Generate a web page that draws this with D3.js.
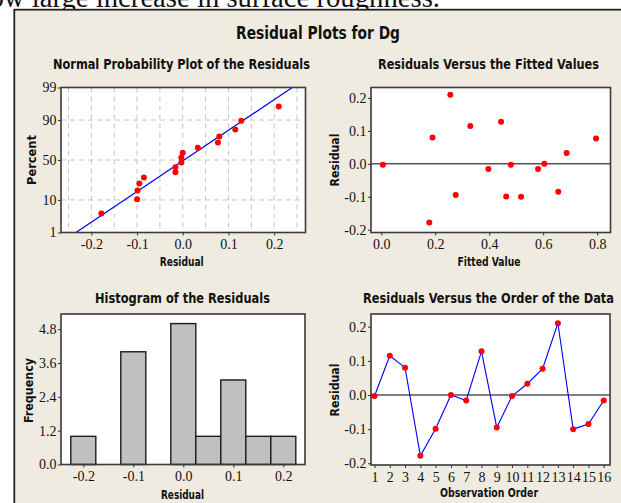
<!DOCTYPE html>
<html><head><meta charset="utf-8">
<script src="https://cdn.jsdelivr.net/npm/d3@7"></script>
<style>body{margin:0;background:#fff}svg{display:block}</style>
</head><body><svg id="c" width="621" height="503"></svg>
<script>
// ---------- data ----------
const observationOrder = [1,2,3,4,5,6,7,8,9,10,11,12,13,14,15,16];
const residuals = [-0.003,0.115,0.080,-0.178,-0.099,0.000,-0.016,0.128,-0.095,-0.003,0.033,0.077,0.210,-0.100,-0.085,-0.016];
const fittedValues = [0.006,0.330,0.190,0.178,0.463,0.604,0.397,0.444,0.276,0.480,0.687,0.796,0.256,0.518,0.656,0.581];
const percentTicks = [1,10,50,90,99];
const percentGrid = [10,50,90];
const residualTicks = [-0.2,-0.1,0.0,0.1,0.2];
const residualGrid = [-0.25,-0.2,-0.15,-0.1,-0.05,0,0.05,0.1,0.15,0.2,0.25];
const fittedTicks = [0.0,0.2,0.4,0.6,0.8];
const frequencyTicks = [0.0,1.2,2.4,3.6,4.8];
const histEdges = [-0.225,-0.175,-0.125,-0.075,-0.025,0.025,0.075,0.125,0.175,0.225];
const mainTitle = "Residual Plots for Dg";
const panelTitles = ["Normal Probability Plot of the Residuals","Residuals Versus the Fitted Values","Histogram of the Residuals","Residuals Versus the Order of the Data"];

// ---------- helpers ----------
function probit(p){
  const a=[-3.969683028665376e+01,2.209460984245205e+02,-2.759285104469687e+02,1.383577518672690e+02,-3.066479806614716e+01,2.506628277459239e+00];
  const b=[-5.447609879822406e+01,1.615858368580409e+02,-1.556989798598866e+02,6.680131188771972e+01,-1.328068155288572e+01];
  const c=[-7.784894002430293e-03,-3.223964580411365e-01,-2.400758277161838e+00,-2.549732539343734e+00,4.374664141464968e+00,2.938163982698783e+00];
  const d=[7.784695709041462e-03,3.224671290700398e-01,2.445134137142996e+00,3.754408661907416e+00];
  const pl=0.02425, ph=1-pl; let q,r;
  if(p<pl){q=Math.sqrt(-2*Math.log(p));return (((((c[0]*q+c[1])*q+c[2])*q+c[3])*q+c[4])*q+c[5])/((((d[0]*q+d[1])*q+d[2])*q+d[3])*q+1);}
  if(p<=ph){q=p-0.5;r=q*q;return (((((a[0]*r+a[1])*r+a[2])*r+a[3])*r+a[4])*r+a[5])*q/(((((b[0]*r+b[1])*r+b[2])*r+b[3])*r+b[4])*r+1);}
  q=Math.sqrt(-2*Math.log(1-p));
  return -(((((c[0]*q+c[1])*q+c[2])*q+c[3])*q+c[4])*q+c[5])/((((d[0]*q+d[1])*q+d[2])*q+d[3])*q+1);
}
const svg = d3.select("#c");
const TICKFONT = "'Liberation Serif','Times New Roman',serif";
const BOLDFONT = "'DejaVu Sans Condensed','DejaVu Sans',sans-serif";
const fmt1 = d => d.toFixed(1);

function boldText(txt, x, y, size, len, rot){
  const t = svg.append("text")
    .attr("font-family", BOLDFONT).attr("font-weight","bold").attr("font-stretch","condensed")
    .attr("font-size", size).attr("text-anchor","middle").attr("fill","#111")
    .attr("textLength", len).attr("lengthAdjust","spacingAndGlyphs").text(txt);
  if(rot) t.attr("transform",`translate(${x},${y}) rotate(-90)`);
  else t.attr("x",x).attr("y",y);
}
function styleAxis(g){
  g.select(".domain").remove();
  g.attr("font-family", TICKFONT).attr("font-size", 14);
  g.selectAll("line").attr("stroke","#333");
  g.selectAll("text").attr("fill","#111");
}
function xAxis(scale, y, ticks, fmt){
  const g = svg.append("g").attr("transform",`translate(0,${y})`)
    .call(d3.axisBottom(scale).tickValues(ticks).tickFormat(fmt).tickSize(3));
  styleAxis(g);
  g.selectAll("text").attr("dy", null).attr("y", 16.5);
}
function yAxis(scale, x, ticks, fmt){
  const g = svg.append("g").attr("transform",`translate(${x},0)`)
    .call(d3.axisLeft(scale).tickValues(ticks).tickFormat(fmt).tickSize(3).tickPadding(1.5));
  styleAxis(g);
}
function plotBg(x0,y0,x1,y1){
  svg.append("rect").attr("x",x0).attr("y",y0).attr("width",x1-x0).attr("height",y1-y0).attr("fill","#fff");
}
function plotFrame(x0,y0,x1,y1){
  svg.append("rect").attr("x",x0).attr("y",y0).attr("width",x1-x0).attr("height",y1-y0)
    .attr("fill","none").attr("stroke","#3a3a3a").attr("stroke-width",1.6);
}

// ---------- page ----------
svg.append("rect").attr("width",621).attr("height",503).attr("fill","#fff");
svg.append("text").attr("x",-36).attr("y",6.5).attr("font-family","'Liberation Serif','Times New Roman',serif")
  .attr("font-size",29).attr("fill","#111").attr("textLength",476).attr("lengthAdjust","spacingAndGlyphs")
  .text("show large increase in surface roughness.");
svg.append("rect").attr("x",14.3).attr("y",9.7).attr("width",700).attr("height",600)
  .attr("fill","#efebe1").attr("stroke","#222").attr("stroke-width",1.8);
boldText(mainTitle, 318, 39, 18, 164);

// ---------- Panel 1: normal probability plot ----------
{
  const x0=61,x1=305.5,y0=87.5,y1=232.5;
  const x = d3.scaleLinear().domain([-0.2664,0.2686]).range([x0,x1]);
  const y = d3.scaleLinear().domain([probit(0.01),probit(0.99)]).range([y1,y0]);
  plotBg(x0,y0,x1,y1);
  const grid = svg.append("g").attr("stroke","#c4c4c4").attr("stroke-width",1).attr("stroke-dasharray","5,4");
  grid.selectAll(".v").data(residualGrid).join("line")
    .attr("x1",d=>x(d)).attr("x2",d=>x(d)).attr("y1",y0).attr("y2",y1);
  grid.selectAll(".h").data(percentGrid).join("line")
    .attr("y1",d=>y(probit(d/100))).attr("y2",d=>y(probit(d/100))).attr("x1",x0).attr("x2",x1);
  const n = residuals.length;
  const sorted = residuals.slice().sort(d3.ascending).map((r,i)=>({r, z: probit((i+1-0.3)/(n+0.4))}));
  const mu = d3.mean(residuals), sd = d3.deviation(residuals);
  const zA = probit(0.01), zB = probit(0.99);
  svg.append("line").attr("x1",x(mu+sd*zA)).attr("y1",y(zA)).attr("x2",x(mu+sd*zB)).attr("y2",y(zB))
    .attr("stroke","#0000ff").attr("stroke-width",1.2);
  svg.append("g").selectAll("circle").data(sorted).join("circle")
    .attr("cx",d=>x(d.r)).attr("cy",d=>y(d.z)).attr("r",3).attr("fill","#ff0000");
  plotFrame(x0,y0,x1,y1);
  xAxis(x, y1, residualTicks, fmt1);
  yAxis(y, x0, percentTicks.map(p=>probit(p/100)), (d,i)=>percentTicks[i]);
  boldText(panelTitles[0], 181.5, 69, 14, 257);
  boldText("Residual", 181.7, 266, 12.5, 44);
  boldText("Percent", 36, 160, 12.5, 50, true);
}

// ---------- Panel 2: residuals vs fitted ----------
{
  const x0=371,x1=610.5,y0=87.5,y1=232.5;
  const x = d3.scaleLinear().domain([-0.038,0.8495]).range([x0,x1]);
  const y = d3.scaleLinear().domain([-0.2085,0.2318]).range([y1,y0]);
  plotBg(x0,y0,x1,y1);
  svg.append("line").attr("x1",x0).attr("x2",x1).attr("y1",y(0)).attr("y2",y(0))
    .attr("stroke","#555").attr("stroke-width",1.5);
  svg.append("g").selectAll("circle").data(fittedValues.map((f,i)=>({f, r: residuals[i]}))).join("circle")
    .attr("cx",d=>x(d.f)).attr("cy",d=>y(d.r)).attr("r",3).attr("fill","#ff0000");
  plotFrame(x0,y0,x1,y1);
  xAxis(x, y1, fittedTicks, fmt1);
  yAxis(y, x0, residualTicks, fmt1);
  boldText(panelTitles[1], 488.5, 69, 14, 221);
  boldText("Fitted Value", 489, 266, 12.5, 63);
  boldText("Residual", 339.3, 160, 12.5, 53, true);
}

// ---------- Panel 3: histogram ----------
{
  const x0=61,x1=305,y0=314,y1=464.5;
  const x = d3.scaleLinear().domain([-0.2446,0.2434]).range([x0,x1]);
  const y = d3.scaleLinear().domain([0,5.34]).range([y1,y0]);
  plotBg(x0,y0,x1,y1);
  const bins = d3.bin().domain([histEdges[0], histEdges[histEdges.length-1]]).thresholds(histEdges.slice(1,-1))(residuals);
  svg.append("g").selectAll("rect").data(bins).join("rect")
    .attr("x",d=>x(d.x0)).attr("width",d=>x(d.x1)-x(d.x0))
    .attr("y",d=>y(d.length)).attr("height",d=>y(0)-y(d.length))
    .attr("fill","#c0c0c0").attr("stroke","#1c1c1c").attr("stroke-width",1.4);
  plotFrame(x0,y0,x1,y1);
  xAxis(x, y1, residualTicks, fmt1);
  yAxis(y, x0, frequencyTicks, fmt1);
  boldText(panelTitles[2], 182.5, 302.7, 14, 175);
  boldText("Residual", 182.5, 499.3, 12.5, 43);
  boldText("Frequency", 33.3, 390.5, 12.5, 65, true);
}

// ---------- Panel 4: residuals vs order ----------
{
  const x0=371,x1=610,y0=314,y1=465;
  const x = d3.scaleLinear().domain([0.77,16.41]).range([x0,x1]);
  const y = d3.scaleLinear().domain([-0.205,0.2372]).range([y1,y0]);
  plotBg(x0,y0,x1,y1);
  svg.append("line").attr("x1",x0).attr("x2",x1).attr("y1",y(0)).attr("y2",y(0))
    .attr("stroke","#555").attr("stroke-width",1.5);
  const pts = observationOrder.map((o,i)=>({o, r: residuals[i]}));
  svg.append("path").datum(pts).attr("fill","none").attr("stroke","#0000ff").attr("stroke-width",1.1)
    .attr("d", d3.line().x(d=>x(d.o)).y(d=>y(d.r)));
  svg.append("g").selectAll("circle").data(pts).join("circle")
    .attr("cx",d=>x(d.o)).attr("cy",d=>y(d.r)).attr("r",3).attr("fill","#ff0000");
  plotFrame(x0,y0,x1,y1);
  xAxis(x, y1, observationOrder, d=>String(d));
  yAxis(y, x0, residualTicks, fmt1);
  boldText(panelTitles[3], 488.5, 303, 14, 251);
  boldText("Observation Order", 489, 497.3, 12.5, 98);
  boldText("Residual", 339.3, 390, 12.5, 53, true);
}
</script></body></html>
